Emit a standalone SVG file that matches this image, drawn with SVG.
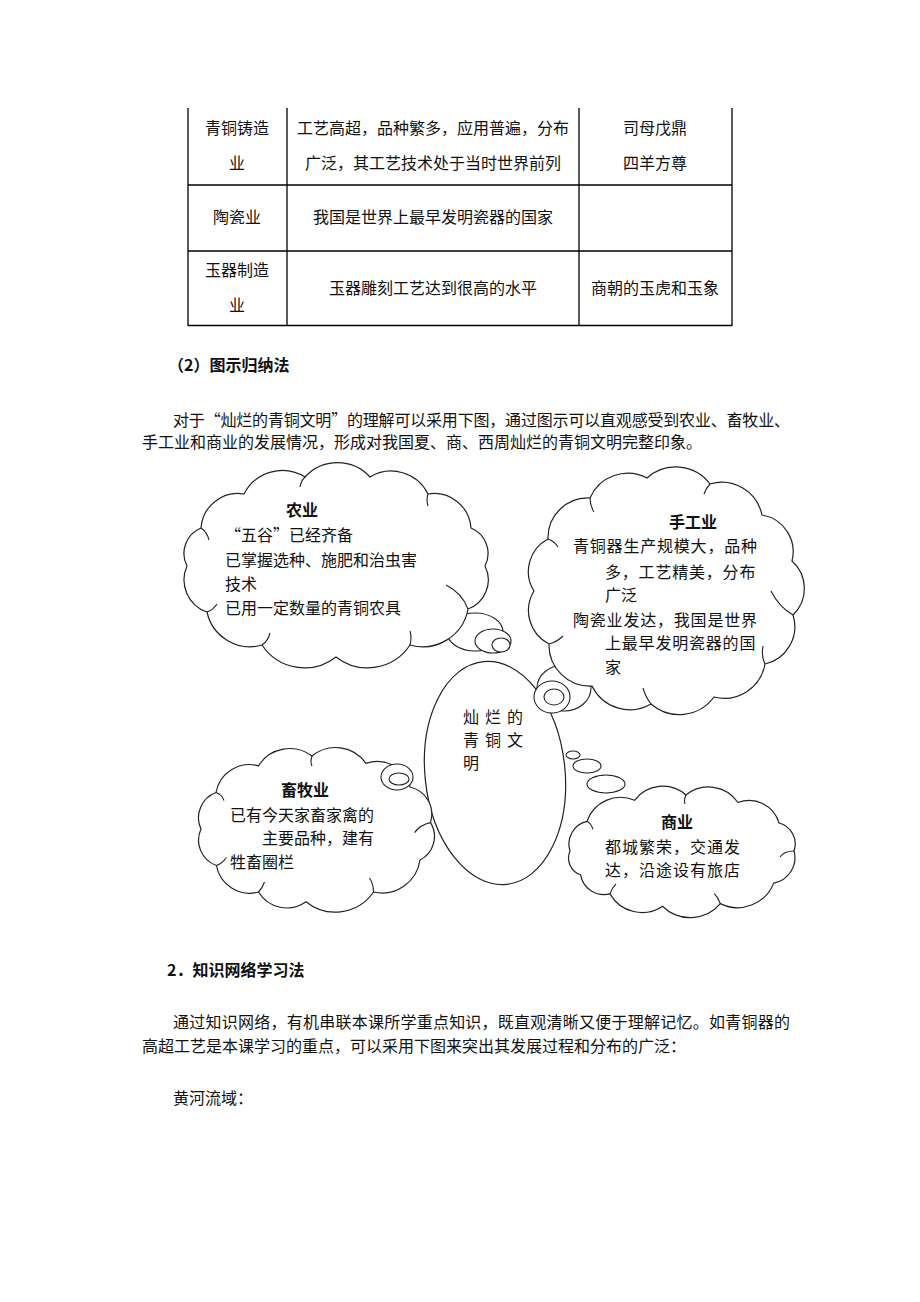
<svg xmlns="http://www.w3.org/2000/svg" width="920" height="1302" viewBox="0 0 920 1302">
<style>
.t{font-family:"Noto Sans CJK SC","Noto Sans",sans-serif;font-size:16px;fill:#111}
.b{font-weight:bold}
.m{text-anchor:middle}
.ln{stroke:#000;stroke-width:1.3;fill:none}
.cl{fill:#fff;stroke:#222;stroke-width:1.2}
.cr{fill:none;stroke:#222;stroke-width:1.1}
.bub{fill:#fff;stroke:#222;stroke-width:1.1}
</style>
<rect width="920" height="1302" fill="#fff"/>
<g id="table">
<path class="ln" d="M188,108V326M287,108V326M579,108V326M732,108V326M188,185H732M188,251H732M188,325.5H732"/>
<text class="t m" x="237" y="134">青铜铸造</text>
<text class="t m" x="237" y="169">业</text>
<text class="t m" x="433" y="134">工艺高超，品种繁多，应用普遍，分布</text>
<text class="t m" x="433" y="169">广泛，其工艺技术处于当时世界前列</text>
<text class="t m" x="655" y="134">司母戊鼎</text>
<text class="t m" x="655" y="169">四羊方尊</text>
<text class="t m" x="237" y="223">陶瓷业</text>
<text class="t m" x="433" y="223">我国是世界上最早发明瓷器的国家</text>
<text class="t m" x="237" y="276">玉器制造</text>
<text class="t m" x="237" y="311">业</text>
<text class="t m" x="433" y="294">玉器雕刻工艺达到很高的水平</text>
<text class="t m" x="655" y="294">商朝的玉虎和玉象</text>
</g>
<g id="intro">
<text class="t b" x="168" y="371">（2）图示归纳法</text>
<text class="t" x="173" y="426" textLength="617" lengthAdjust="spacing">对于“灿烂的青铜文明”的理解可以采用下图，通过图示可以直观感受到农业、畜牧业、</text>
<text class="t" x="142" y="448">手工业和商业的发展情况，形成对我国夏、商、西周灿烂的青铜文明完整印象。</text>
</g>
<g id="center">
<ellipse class="cl" cx="495" cy="773" rx="70" ry="112" transform="rotate(-6 495 773)"/>
<text class="t" x="463" y="723" letter-spacing="6">灿烂的</text>
<text class="t" x="463" y="746" letter-spacing="6">青铜文</text>
<text class="t" x="463" y="769">明</text>
</g>
<g id="connectors">
<ellipse class="bub" cx="475" cy="632" rx="28" ry="19"/>
<ellipse class="bub" cx="493" cy="641" rx="18" ry="12"/>
<ellipse class="bub" cx="501" cy="645" rx="9" ry="7"/>
<ellipse class="bub" cx="564" cy="688" rx="27" ry="23"/>
<ellipse class="bub" cx="552" cy="697" rx="18" ry="16"/>
<ellipse class="bub" cx="554" cy="697" rx="10" ry="8"/>
<ellipse class="bub" cx="573" cy="755" rx="7" ry="4"/>
<ellipse class="bub" cx="587" cy="766" rx="14" ry="7"/>
<ellipse class="bub" cx="606" cy="784" rx="19" ry="9"/>
</g>
<g id="agriculture">
<path class="cl" d="M187,566 A27.5,27.5 0 0,1 201,528 A37,37 0 0,1 244,494 A43,43 0 0,1 305,477 A44,44 0 0,1 370,477 A41,41 0 0,1 428,494 A37,37 0 0,1 471,528 A27.5,27.5 0 0,1 485,566 A31,31 0 0,1 468,609 A46,46 0 0,1 410,645 A51,51 0 0,1 336,657 A51,51 0 0,1 262,645 A44,44 0 0,1 207,612 A34,34 0 0,1 187,566 Z"/>
<path class="cr" d="M201,528 q6,4 8,12 M305,477 q-4,4 -5,10 M428,494 q-2,6 0,12 M468,609 q-6,-16 -22,-24 M410,645 q2,-8 0,-14 M262,645 q6,-4 8,-12 M207,612 q6,-2 10,-8"/>
<text class="t b m" x="302" y="516">农业</text>
<text class="t" x="225" y="541">“五谷”已经齐备</text>
<text class="t" x="225" y="566">已掌握选种、施肥和治虫害</text>
<text class="t" x="225" y="590">技术</text>
<text class="t" x="225" y="614">已用一定数量的青铜农具</text>
</g>
<g id="handicraft">
<path class="cl" d="M534,591 A36.7,36.7 0 0,1 548,539 A39.9,39.9 0 0,1 590,498 A41.1,41.1 0 0,1 647,478 A43,43 0 0,1 710,484 A41.1,41.1 0 0,1 762,515 A37.3,37.3 0 0,1 792,561 A36.7,36.7 0 0,1 793,615 A38.4,38.4 0 0,1 765,664 A41.3,41.3 0 0,1 714,697 A43.1,43.1 0 0,1 651,704 A42,42 0 0,1 592,686 A40.9,40.9 0 0,1 549,644 A37.5,37.5 0 0,1 534,591 Z"/>
<path class="cr" d="M548,539 q6,2 10,8 M590,498 q0,8 4,14 M710,484 q-4,4 -6,10 M793,615 q-14,-8 -22,-24 M765,664 q-4,-8 -2,-18 M651,704 q-6,-8 -8,-16 M549,644 q8,-2 14,-8"/>
<text class="t b m" x="693" y="528">手工业</text>
<text class="t" x="573" y="552" letter-spacing="0.8">青铜器生产规模大，品种</text>
<text class="t" x="605" y="578" letter-spacing="0.8">多，工艺精美，分布</text>
<text class="t" x="605" y="601">广泛</text>
<text class="t" x="573" y="626" letter-spacing="0.8">陶瓷业发达，我国是世界</text>
<text class="t" x="605" y="649" letter-spacing="0.8">上最早发明瓷器的国</text>
<text class="t" x="605" y="673">家</text>
</g>
<g id="husbandry">
<path class="cl" d="M201,829 A26.9,26.9 0 0,1 216,792.5 A34.1,34.1 0 0,1 258.5,765.8 A37,37 0 0,1 312,756 A37.1,37.1 0 0,1 366,763.4 A33.9,33.9 0 0,1 410,787 A28,28 0 0,1 430.5,822.6 A26.4,26.4 0 0,1 420,860 A38.4,38.4 0 0,1 373.5,892 A46.4,46.4 0 0,1 306,901.7 A33,33 0 0,1 258.5,892 A33.8,33.8 0 0,1 216.4,865.5 A26.9,26.9 0 0,1 201,829 Z"/>
<path class="cr" d="M216,792.5 q6,2 8,8 M312,756 q-2,6 0,10 M430.5,822.6 q-10,2 -16,10 M373.5,892 q0,-8 -4,-14 M258.5,892 q4,-4 6,-10 M216.4,865.5 q6,-2 10,-8"/>
<ellipse class="bub" cx="397" cy="777" rx="16" ry="13"/>
<ellipse class="bub" cx="399" cy="779" rx="10" ry="6"/>
<text class="t b m" x="305" y="796">畜牧业</text>
<text class="t" x="230" y="821">已有今天家畜家禽的</text>
<text class="t" x="262" y="844">主要品种，建有</text>
<text class="t" x="230" y="868">牲畜圈栏</text>
</g>
<g id="commerce">
<path class="cl" d="M570,851 A23.3,23.3 0 0,1 587,821.3 A35.4,35.4 0 0,1 634.6,800.3 A35.1,35.1 0 0,1 685.9,795 A35.8,35.8 0 0,1 738,802.5 A31.1,31.1 0 0,1 779,823 A21.6,21.6 0 0,1 794,851 A25.8,25.8 0 0,1 773.7,883.1 A38.9,38.9 0 0,1 720.3,903.6 A39.4,39.4 0 0,1 662.5,906.2 A36.7,36.7 0 0,1 610,893.9 A23.9,23.9 0 0,1 580.5,874.7 A17.6,17.6 0 0,1 570,851 Z"/>
<path class="cr" d="M587,821.3 q4,2 6,8 M685.9,795 q-2,4 -1,9 M794,851 q-10,0 -14,6 M720.3,903.6 q-2,-6 -6,-10 M610,893.9 q2,-6 6,-10"/>
<text class="t b m" x="677" y="828">商业</text>
<text class="t" x="605" y="853" letter-spacing="1">都城繁荣，交通发</text>
<text class="t" x="605" y="876" letter-spacing="1">达，沿途设有旅店</text>
</g>
<g id="section2">
<text class="t b" x="167" y="976">2．知识网络学习法</text>
<text class="t" x="173" y="1028" textLength="617" lengthAdjust="spacing">通过知识网络，有机串联本课所学重点知识，既直观清晰又便于理解记忆。如青铜器的</text>
<text class="t" x="142" y="1052">高超工艺是本课学习的重点，可以采用下图来突出其发展过程和分布的广泛：</text>
<text class="t" x="173" y="1104">黄河流域：</text>
</g>
</svg>
